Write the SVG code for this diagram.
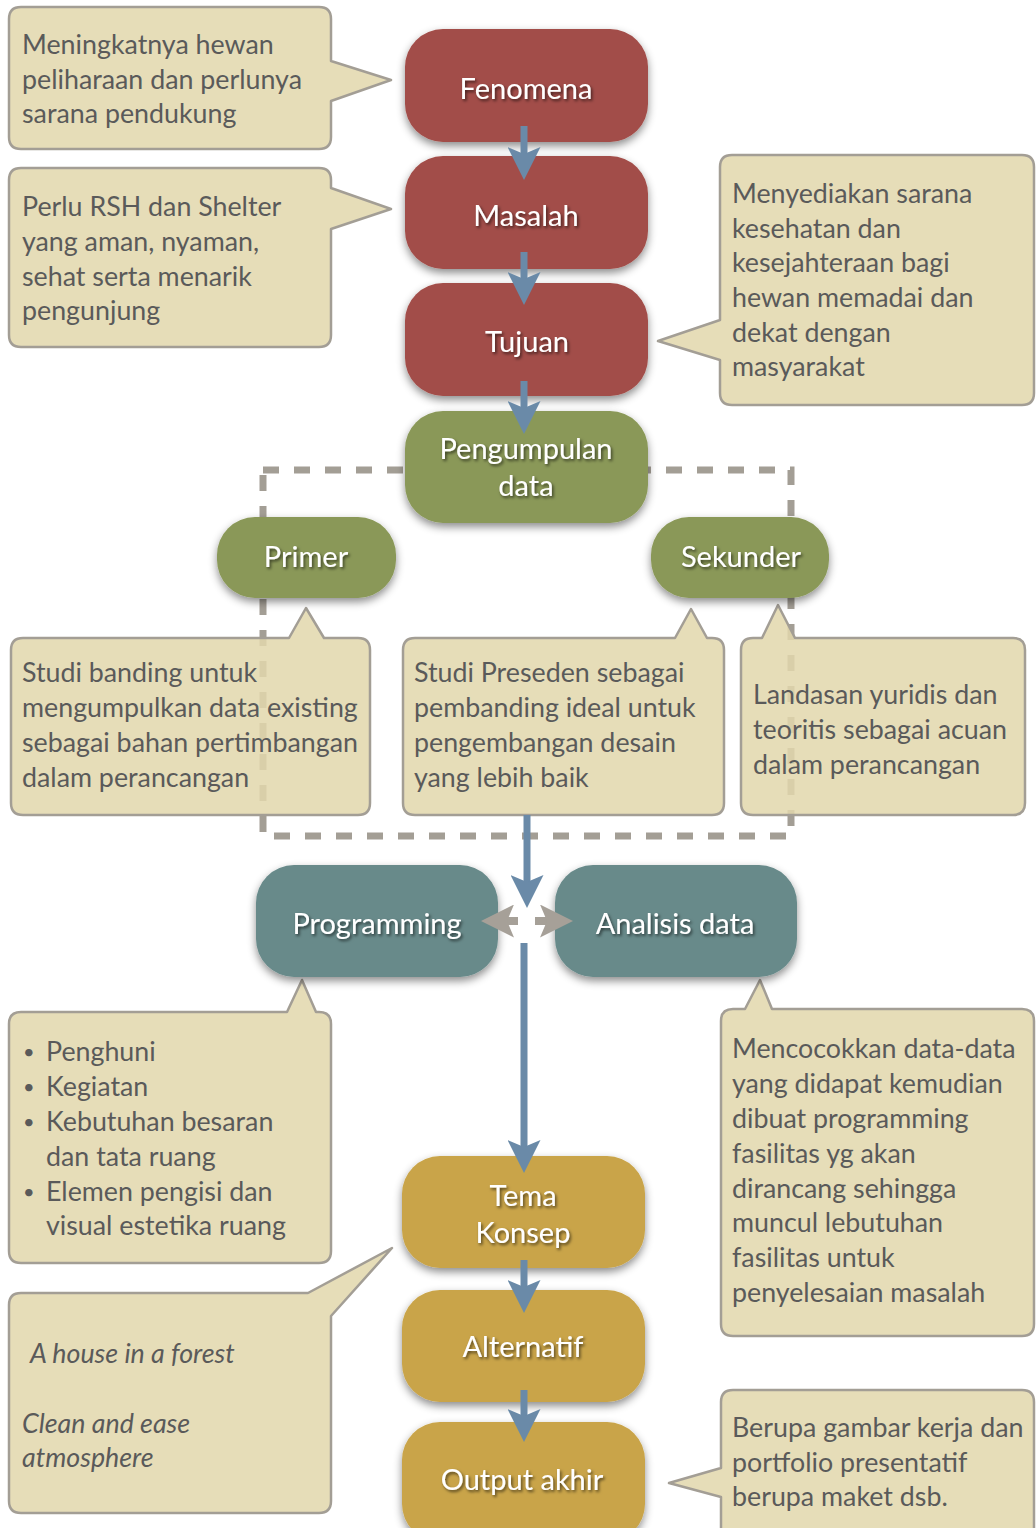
<svg xmlns="http://www.w3.org/2000/svg" width="1036" height="1528" viewBox="0 0 1036 1528">
<defs>
<style>
.callout{fill:#E2D7AC;fill-opacity:0.86;stroke:#A39E95;stroke-width:2.5;stroke-linejoin:round}
.ct{font-family:Lato,"Liberation Sans",sans-serif;font-size:26.8px;fill:#5A5A5A}
.bul{font-size:20px}
.it{font-style:italic}
.nt{font-family:Lato,"Liberation Sans",sans-serif;font-size:29px;fill:#FFFFFF;text-anchor:middle;filter:url(#tshadow)}
.red{fill:#A24D48}
.green{fill:#8A9858}
.teal{fill:#688A8A}
.gold{fill:#C9A448}
.node{filter:url(#nshadow)}
.blue{stroke:#6A8AA8;stroke-width:7;fill:none;marker-end:url(#headBlue)}
.gray{stroke:#A6A098;stroke-width:8;fill:none;marker-end:url(#headGray)}
.dash{fill:none;stroke:#A39E95;stroke-width:7;stroke-dasharray:16 15}
</style>
<filter id="nshadow" x="-20%" y="-20%" width="140%" height="150%">
<feDropShadow dx="0" dy="4" stdDeviation="4" flood-color="#000" flood-opacity="0.45"/>
</filter>
<filter id="tshadow" x="-20%" y="-40%" width="140%" height="180%">
<feDropShadow dx="1.5" dy="2" stdDeviation="1.5" flood-color="#000" flood-opacity="0.6"/>
</filter>
<marker id="headBlue" viewBox="0 0 33 33" refX="7" refY="16.5" markerWidth="33" markerHeight="33" markerUnits="userSpaceOnUse" orient="auto">
<path d="M0,0 L33,16.5 L0,33 L7,16.5 Z" fill="#6A8AA8"/>
</marker>
<marker id="headGray" viewBox="0 0 33 33" refX="7" refY="16.5" markerWidth="33" markerHeight="33" markerUnits="userSpaceOnUse" orient="auto">
<path d="M0,0 L33,16.5 L0,33 L7,16.5 Z" fill="#A6A098"/>
</marker>
</defs>
<rect width="1036" height="1528" fill="#FFFFFF"/>

<g id="group-box">
<rect class="dash" x="263" y="470" width="528" height="366"/>
</g>

<g id="callout-fenomena">
<path class="callout" d="M21,7 H319 Q331,7 331,19 V61 L391,80 L331,101 V137 Q331,149 319,149 H21 Q9,149 9,137 V19 Q9,7 21,7 Z"/>
<text class="ct" x="22" y="54">Meningkatnya hewan</text>
<text class="ct" x="22" y="89">peliharaan dan perlunya</text>
<text class="ct" x="22" y="123">sarana pendukung</text>
</g>

<g id="callout-masalah">
<path class="callout" d="M21,168 H319 Q331,168 331,180 V188 L391,209 L331,229 V335 Q331,347 319,347 H21 Q9,347 9,335 V180 Q9,168 21,168 Z"/>
<text class="ct" x="22" y="216">Perlu RSH dan Shelter</text>
<text class="ct" x="22" y="251">yang aman, nyaman,</text>
<text class="ct" x="22" y="286">sehat serta menarik</text>
<text class="ct" x="22" y="320">pengunjung</text>
</g>

<g id="callout-tujuan">
<path class="callout" d="M732,155 H1022 Q1034,155 1034,167 V393 Q1034,405 1022,405 H732 Q720,405 720,393 V360 L658,341 L720,320 V167 Q720,155 732,155 Z"/>
<text class="ct" x="732" y="203">Menyediakan sarana</text>
<text class="ct" x="732" y="238">kesehatan dan</text>
<text class="ct" x="732" y="272">kesejahteraan bagi</text>
<text class="ct" x="732" y="307">hewan memadai dan</text>
<text class="ct" x="732" y="342">dekat dengan</text>
<text class="ct" x="732" y="376">masyarakat</text>
</g>

<g id="callout-primer">
<path class="callout" d="M23,638 H289 L306,608 L324,638 H358 Q370,638 370,650 V803 Q370,815 358,815 H23 Q11,815 11,803 V650 Q11,638 23,638 Z"/>
<text class="ct" x="22" y="682">Studi banding untuk</text>
<text class="ct" x="22" y="717">mengumpulkan data existing</text>
<text class="ct" x="22" y="752">sebagai bahan pertimbangan</text>
<text class="ct" x="22" y="787">dalam perancangan</text>
</g>

<g id="callout-preseden">
<path class="callout" d="M415,638 H675 L691,609 L707,638 H712 Q724,638 724,650 V803 Q724,815 712,815 H415 Q403,815 403,803 V650 Q403,638 415,638 Z"/>
<text class="ct" x="414" y="682">Studi Preseden sebagai</text>
<text class="ct" x="414" y="717">pembanding ideal untuk</text>
<text class="ct" x="414" y="752">pengembangan desain</text>
<text class="ct" x="414" y="787">yang lebih baik</text>
</g>

<g id="callout-sekunder">
<path class="callout" d="M753,638 H762 L778,605 L795,638 H1013 Q1025,638 1025,650 V803 Q1025,815 1013,815 H753 Q741,815 741,803 V650 Q741,638 753,638 Z"/>
<text class="ct" x="753" y="704">Landasan yuridis dan</text>
<text class="ct" x="753" y="739">teoritis sebagai acuan</text>
<text class="ct" x="753" y="774">dalam perancangan</text>
</g>

<g id="callout-programming">
<path class="callout" d="M21,1012 H287 L302,980 L316,1012 H319 Q331,1012 331,1024 V1251 Q331,1263 319,1263 H21 Q9,1263 9,1251 V1024 Q9,1012 21,1012 Z"/>
<text class="ct bul" x="23" y="1059">•</text><text class="ct" x="46" y="1061">Penghuni</text>
<text class="ct bul" x="23" y="1094">•</text><text class="ct" x="46" y="1096">Kegiatan</text>
<text class="ct bul" x="23" y="1129">•</text><text class="ct" x="46" y="1131">Kebutuhan besaran</text>
<text class="ct" x="46" y="1166">dan tata ruang</text>
<text class="ct bul" x="23" y="1199">•</text><text class="ct" x="46" y="1201">Elemen pengisi dan</text>
<text class="ct" x="46" y="1235">visual estetika ruang</text>
</g>

<g id="callout-analisis">
<path class="callout" d="M733,1009 H745 L760,980 L772,1009 H1022 Q1034,1009 1034,1021 V1324 Q1034,1336 1022,1336 H733 Q721,1336 721,1324 V1021 Q721,1009 733,1009 Z"/>
<text class="ct" x="732" y="1058">Mencocokkan data-data</text>
<text class="ct" x="732" y="1093">yang didapat kemudian</text>
<text class="ct" x="732" y="1128">dibuat programming</text>
<text class="ct" x="732" y="1163">fasilitas yg akan</text>
<text class="ct" x="732" y="1198">dirancang sehingga</text>
<text class="ct" x="732" y="1232">muncul lebutuhan</text>
<text class="ct" x="732" y="1267">fasilitas untuk</text>
<text class="ct" x="732" y="1302">penyelesaian masalah</text>
</g>

<g id="callout-tema">
<path class="callout" d="M21,1293 H308 L392,1248 L331,1316 V1501 Q331,1513 319,1513 H21 Q9,1513 9,1501 V1305 Q9,1293 21,1293 Z"/>
<text class="ct it" x="30" y="1363">A house in a forest</text>
<text class="ct it" x="22" y="1433">Clean and ease</text>
<text class="ct it" x="22" y="1467">atmosphere</text>
</g>

<g id="callout-output">
<path class="callout" d="M733,1390 H1022 Q1034,1390 1034,1402 V1540 H721 V1497 L669,1483 L721,1468 V1402 Q721,1390 733,1390 Z"/>
<text class="ct" x="732" y="1437">Berupa gambar kerja dan</text>
<text class="ct" x="732" y="1472">portfolio presentatif</text>
<text class="ct" x="732" y="1506">berupa maket dsb.</text>
</g>

<g id="node-fenomena">
<rect class="node red" x="405" y="29" width="243" height="113" rx="38"/>
<text class="nt" x="526" y="99">Fenomena</text>
</g>
<g id="node-masalah">
<rect class="node red" x="405" y="156" width="243" height="113" rx="38"/>
<text class="nt" x="526" y="226">Masalah</text>
</g>
<g id="node-tujuan">
<rect class="node red" x="405" y="283" width="243" height="113" rx="38"/>
<text class="nt" x="527" y="352">Tujuan</text>
</g>
<g id="node-pengumpulan">
<rect class="node green" x="405" y="411" width="243" height="112" rx="38"/>
<text class="nt" x="526" y="459">Pengumpulan</text>
<text class="nt" x="526" y="496">data</text>
</g>
<g id="node-primer">
<rect class="node green" x="217" y="517" width="179" height="81" rx="38"/>
<text class="nt" x="306" y="567">Primer</text>
</g>
<g id="node-sekunder">
<rect class="node green" x="651" y="517" width="178" height="81" rx="38"/>
<text class="nt" x="741" y="567">Sekunder</text>
</g>
<g id="node-programming">
<rect class="node teal" x="256" y="865" width="242" height="112" rx="38"/>
<text class="nt" x="377" y="934">Programming</text>
</g>
<g id="node-analisis">
<rect class="node teal" x="555" y="865" width="242" height="112" rx="38"/>
<text class="nt" x="675" y="934">Analisis data</text>
</g>
<g id="node-tema">
<rect class="node gold" x="402" y="1156" width="243" height="112" rx="38"/>
<text class="nt" x="523" y="1206">Tema</text>
<text class="nt" x="523" y="1243">Konsep</text>
</g>
<g id="node-alternatif">
<rect class="node gold" x="402" y="1290" width="243" height="112" rx="38"/>
<text class="nt" x="523" y="1357">Alternatif</text>
</g>
<g id="node-output">
<rect class="node gold" x="402" y="1422" width="243" height="120" rx="38"/>
<text class="nt" x="522" y="1490">Output akhir</text>
</g>

<g id="connectors">
<line class="blue" x1="524" y1="126" x2="524" y2="154"/>
<line class="blue" x1="524" y1="252" x2="524" y2="279"/>
<line class="blue" x1="524" y1="381" x2="524" y2="408"/>
<line class="blue" x1="527" y1="815" x2="527" y2="882"/>
<line class="blue" x1="524" y1="943" x2="524" y2="1147"/>
<line class="blue" x1="524" y1="1260" x2="524" y2="1287"/>
<line class="blue" x1="524" y1="1390" x2="524" y2="1416"/>
<line class="gray" x1="518" y1="921" x2="507" y2="921"/>
<line class="gray" x1="535" y1="921" x2="547" y2="921"/>
</g>
</svg>
